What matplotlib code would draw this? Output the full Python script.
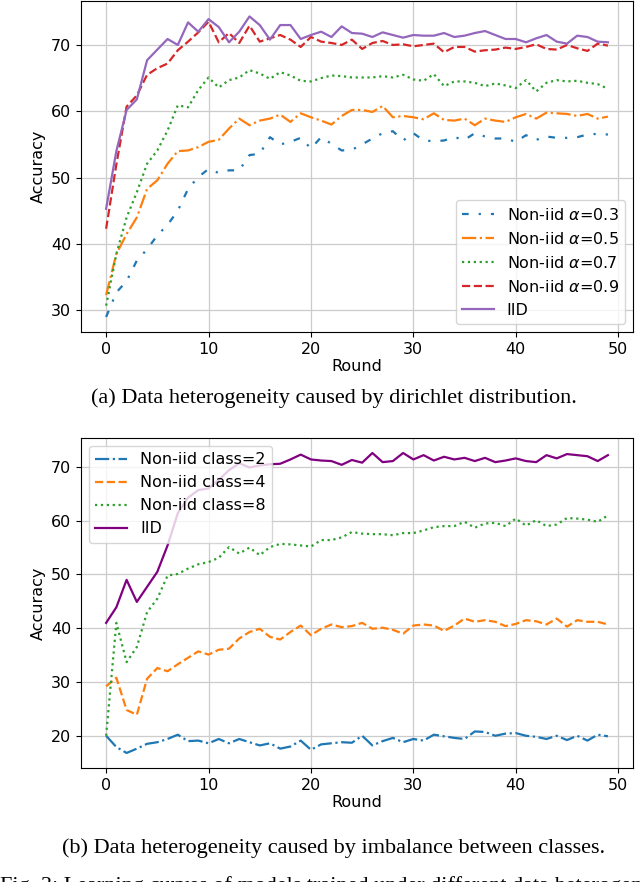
import matplotlib
matplotlib.use("Agg")
import matplotlib.pyplot as plt
import numpy as np

rounds = list(range(50))

# Top chart: dirichlet distribution
top_a03 = [29.0, 32.7, 34.4, 37.5, 39.2, 41.3, 42.9, 45.0, 48.3, 50.1,
           51.3, 50.7, 51.1, 51.1, 53.4, 53.6, 56.1, 55.0, 55.4, 56.0,
           54.4, 56.1, 55.1, 54.1, 54.2, 55.0, 55.9, 56.7, 57.0, 55.6,
           56.7, 55.6, 55.5, 55.6, 56.1, 55.7, 56.7, 56.2, 55.9, 55.9,
           55.4, 56.4, 55.7, 56.2, 56.0, 56.0, 56.1, 56.5, 56.6, 56.5]
top_a05 = [32.3, 38.5, 41.5, 44.0, 48.3, 49.6, 52.1, 54.0, 54.1, 54.6,
           55.4, 55.7, 57.4, 58.9, 57.9, 58.6, 58.9, 59.5, 58.4, 59.7,
           59.1, 58.6, 58.0, 59.3, 60.2, 60.2, 59.9, 60.8, 59.1, 59.3,
           59.1, 58.8, 59.7, 58.7, 58.6, 58.9, 57.9, 58.9, 58.6, 58.4,
           59.1, 59.6, 58.9, 59.8, 59.7, 59.6, 59.3, 59.6, 58.9, 59.2]
top_a07 = [30.7, 38.5, 44.0, 47.8, 52.1, 54.1, 57.1, 60.9, 60.6, 63.2,
           65.1, 63.6, 64.7, 65.1, 66.2, 65.7, 64.9, 65.9, 65.4, 64.6,
           64.5, 65.0, 65.4, 65.3, 65.1, 65.1, 65.1, 65.3, 65.1, 65.5,
           64.8, 64.6, 65.6, 63.8, 64.5, 64.5, 64.3, 63.8, 64.2, 63.9,
           63.5, 64.7, 63.0, 64.3, 64.7, 64.5, 64.6, 64.3, 64.1, 63.4]
top_a09 = [42.3, 52.0, 60.7, 62.4, 65.5, 66.5, 67.2, 69.2, 70.5, 71.9,
           73.5, 70.4, 71.8, 70.3, 72.9, 70.5, 71.0, 71.5, 70.8, 69.7,
           71.2, 70.5, 70.3, 70.0, 70.8, 69.4, 70.3, 70.6, 70.0, 70.1,
           69.8, 70.0, 70.2, 68.9, 69.7, 69.7, 69.0, 69.2, 69.3, 69.6,
           69.4, 69.7, 70.1, 69.4, 69.3, 70.0, 69.5, 69.1, 70.2, 69.9]
top_iid = [45.3, 54.0, 60.2, 61.8, 67.7, 69.3, 70.9, 70.0, 73.4, 72.0,
           73.9, 72.7, 70.4, 72.0, 74.3, 73.0, 70.8, 73.0, 73.0, 70.9,
           71.5, 72.0, 71.2, 72.8, 71.8, 71.7, 71.2, 71.9, 71.5, 71.1,
           71.5, 71.4, 71.4, 71.8, 71.2, 71.4, 71.8, 72.1, 71.5, 70.9,
           70.9, 70.4, 71.0, 71.5, 70.5, 70.2, 71.4, 71.2, 70.5, 70.4]
top_labels = [r"Non-iid $\alpha$=0.3", r"Non-iid $\alpha$=0.5",
              r"Non-iid $\alpha$=0.7", r"Non-iid $\alpha$=0.9", "IID"]

# Bottom chart: imbalance between classes
bot_c2 = [20.0, 17.9, 16.8, 17.6, 18.5, 18.8, 19.4, 20.2, 19.0, 19.1,
          18.6, 19.4, 18.6, 19.4, 18.8, 18.2, 18.6, 17.6, 18.0, 19.1,
          17.4, 18.4, 18.6, 18.8, 18.7, 20.0, 18.2, 19.0, 19.6, 18.8,
          19.4, 19.1, 20.2, 19.9, 19.6, 19.4, 20.8, 20.7, 20.0, 20.4,
          20.5, 20.0, 19.8, 19.4, 20.0, 19.2, 20.0, 19.1, 20.2, 19.9]
bot_c4 = [29.2, 30.8, 24.8, 23.9, 30.6, 32.6, 32.0, 33.3, 34.5, 35.7,
          35.1, 36.0, 36.2, 38.1, 39.3, 39.9, 38.4, 37.9, 39.3, 40.5,
          38.7, 39.9, 40.7, 40.2, 40.4, 41.0, 39.9, 40.1, 39.7, 39.0,
          40.5, 40.7, 40.5, 39.5, 40.5, 41.8, 41.2, 41.5, 41.2, 40.4,
          40.8, 41.5, 41.3, 40.7, 41.8, 40.3, 41.5, 41.2, 41.2, 40.7]
bot_c8 = [20.0, 41.0, 33.7, 36.5, 43.0, 45.5, 49.8, 50.1, 51.1, 51.9,
          52.3, 53.1, 55.1, 53.9, 55.0, 53.6, 55.1, 55.7, 55.6, 55.4,
          55.2, 56.4, 56.4, 56.9, 57.9, 57.6, 57.5, 57.5, 57.3, 57.7,
          57.7, 58.2, 58.8, 59.0, 59.0, 59.8, 58.7, 59.5, 59.6, 59.0,
          60.4, 59.1, 60.1, 59.0, 59.3, 60.5, 60.4, 60.2, 59.8, 61.0]
bot_iid = [41.0, 43.9, 49.0, 44.9, 47.7, 50.5, 55.4, 61.4, 64.3, 65.7,
           66.0, 67.6, 69.4, 70.7, 69.9, 70.3, 70.5, 70.6, 71.4, 72.3,
           71.4, 71.2, 71.1, 70.4, 71.3, 70.8, 72.6, 70.9, 71.1, 72.6,
           71.4, 72.2, 71.2, 71.9, 71.4, 71.7, 71.1, 71.7, 70.9, 71.2,
           71.6, 71.1, 70.9, 72.2, 71.6, 72.4, 72.2, 72.0, 71.1, 72.2]
bot_labels = ["Non-iid class=2", "Non-iid class=4", "Non-iid class=8", "IID"]

captions = ["(a) Data heterogeneity caused by dirichlet distribution.",
            "(b) Data heterogeneity caused by imbalance between classes.",
            "Fig. 3: Learning curves of models trained under different data heterogeneity."]

plt.rcParams["font.family"] = ["DejaVu Sans"]
fs = 11.5
plt.rcParams["font.size"] = fs

fig = plt.figure(figsize=(6.4, 8.82), dpi=100)

lw = 1.6
ax1 = fig.add_axes([0.1266, 0.6236, 0.8625, 0.3748])
ax1.plot(rounds, top_a03, color="C0", lw=lw, ls=(0, (3, 4.5, 1, 4.5)), label=top_labels[0])
ax1.plot(rounds, top_a05, color="C1", lw=lw, ls="-.", label=top_labels[1])
ax1.plot(rounds, top_a07, color="C2", lw=lw, ls=":", label=top_labels[2])
ax1.plot(rounds, top_a09, color="C3", lw=lw, ls="--", label=top_labels[3])
ax1.plot(rounds, top_iid, color="C4", lw=lw, ls="-", label=top_labels[4])
ax1.set_xlabel("Round", fontsize=fs, labelpad=2)
ax1.set_ylabel("Accuracy", fontsize=fs)
ax1.set_xticks([0, 10, 20, 30, 40, 50])
ax1.set_yticks([30, 40, 50, 60, 70])
ax1.grid(True, color="#cccccc", lw=0.9)
ax1.set_axisbelow(True)
ax1.tick_params(labelsize=fs)
ax1.legend(loc="lower right", fontsize=fs, handlelength=2.0)

ax2 = fig.add_axes([0.1266, 0.1293, 0.8625, 0.3741])
ax2.plot(rounds, bot_c2, color="C0", lw=lw, ls="-.", label=bot_labels[0])
ax2.plot(rounds, bot_c4, color="C1", lw=lw, ls="--", label=bot_labels[1])
ax2.plot(rounds, bot_c8, color="C2", lw=lw, ls=":", label=bot_labels[2])
ax2.plot(rounds, bot_iid, color="purple", lw=lw, ls="-", label=bot_labels[3])
ax2.set_xlabel("Round", fontsize=fs, labelpad=2)
ax2.set_ylabel("Accuracy", fontsize=fs)
ax2.set_xticks([0, 10, 20, 30, 40, 50])
ax2.set_yticks([20, 30, 40, 50, 60, 70])
ax2.grid(True, color="#cccccc", lw=0.9)
ax2.set_axisbelow(True)
ax2.tick_params(labelsize=fs)
ax2.legend(loc="upper left", fontsize=fs, handlelength=2.0)

serif = ["Liberation Serif", "DejaVu Serif"]
fig.text(334 / 640, 1 - 398 / 882, captions[0], ha="center", va="center",
         family=serif, fontsize=16)
fig.text(334 / 640, 1 - 848 / 882, captions[1], ha="center", va="center",
         family=serif, fontsize=16)
fig.text(0.0, 1 - 876 / 882, captions[2], ha="left", va="top",
         family=serif, fontsize=16)

fig.savefig("out.png", dpi=100)
